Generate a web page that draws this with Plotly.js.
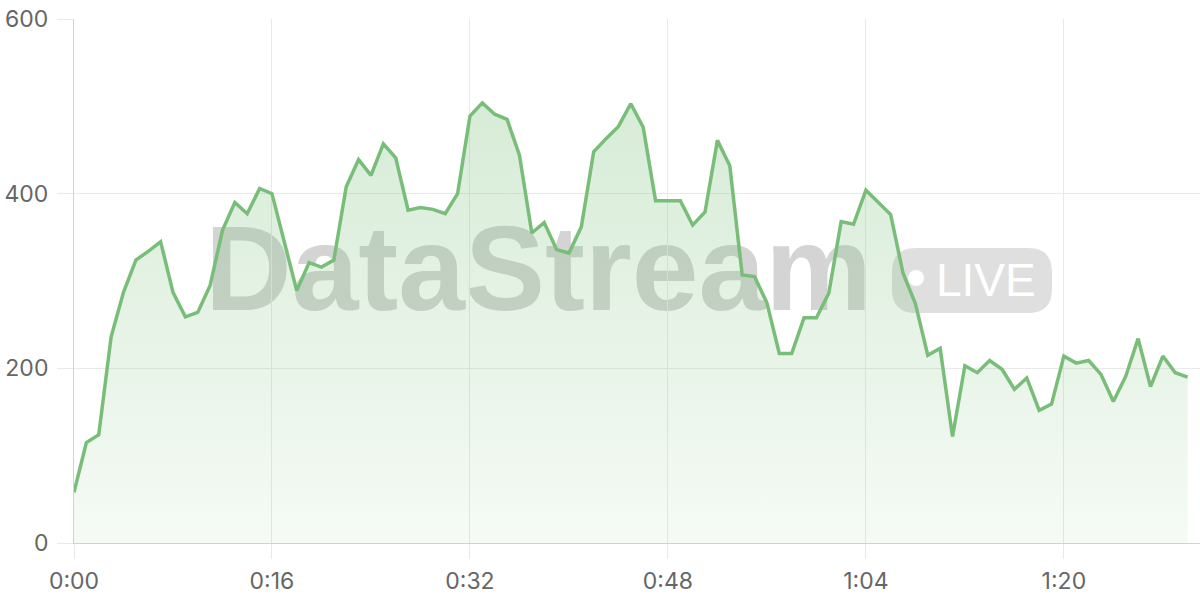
<!DOCTYPE html>
<html>
<head>
<meta charset="utf-8">
<script src="https://cdn.plot.ly/plotly-3.0.1.min.js"></script>
<style>html,body{margin:0;padding:0;background:#fff;}#chart{width:1200px;height:600px;}</style>
</head>
<body>
<div id="chart"></div>
<script>
// Values per second (0:00 .. 1:30)
const seconds = Array.from({length: 91}, (_, i) => i);
const values = [58,115,124,236,287,324,334,345,287,259,
                264,295,358,390,377,406,400,344,289,321,
                316,324,408,439,421,457,441,381,384,382,
                377,400,489,504,491,485,444,355,367,336,
                332,362,448,463,477,503,476,392,392,392,
                364,379,461,432,307,305,275,217,217,258,
                258,286,368,365,404,390,376,309,274,215,
                223,122,203,195,209,199,176,189,152,159,
                214,206,209,193,162,191,234,179,214,195,190];
const xTickVals = [0,16,32,48,64,80];
const xTickText = ['0:00','0:16','0:32','0:48','1:04','1:20'];
const yTickVals = [0,200,400,600];
const watermarkText = 'DataStream';
const badgeText = 'LIVE';

const trace = {
  x: seconds, y: values, type: 'scatter', mode: 'lines',
  line: {color: '#78be78', width: 3.5, shape: 'linear'},
  fill: 'tozeroy',
  fillgradient: {type: 'vertical', colorscale: [[0,'rgba(120,190,120,0.07)'],[1,'rgba(120,190,120,0.30)']]},
  hoverinfo: 'skip'
};

const gridC = '#e9e9e9';
const layout = {
  width: 1200, height: 600,
  margin: {l: 74, r: 0, t: 19, b: 57, pad: 0},
  paper_bgcolor: '#fff', plot_bgcolor: '#fff',
  showlegend: false,
  font: {family: 'Inter, "Liberation Sans", sans-serif', size: 23, color: '#666'},
  xaxis: {
    range: [0, 91], tickvals: xTickVals, ticktext: xTickText,
    showgrid: true, gridcolor: gridC, gridwidth: 1,
    ticks: 'outside', ticklen: 15, tickcolor: gridC, tickwidth: 1,
    showline: true, linecolor: '#d2d2d2', linewidth: 1,
    zeroline: false, automargin: false, ticklabelstandoff: 2
  },
  yaxis: {
    range: [0, 600], tickvals: yTickVals,
    showgrid: true, gridcolor: gridC, gridwidth: 1,
    ticks: 'outside', ticklen: 16, tickcolor: gridC, tickwidth: 1,
    showline: true, linecolor: '#d2d2d2', linewidth: 1,
    zeroline: false, automargin: false, ticklabelstandoff: 4
  },
  shapes: [
    {type: 'rect', xref: 'paper', yref: 'paper', x0: 0.15, x1: 0.675, y0: 0.425, y1: 0.665,
     fillcolor: 'rgba(0,0,0,0)', line: {width: 0}, layer: 'between',
     label: {text: watermarkText, textposition: 'middle center',
             font: {family: '"Liberation Sans", Arial, sans-serif', size: 120, weight: 'bold', color: 'rgba(100,100,100,0.28)'}}},
    {type: 'path', xref: 'paper', yref: 'paper', xsizemode: 'pixel', ysizemode: 'pixel',
     xanchor: 0.7975, yanchor: 0.501,
     path: 'M -56,-32.5 L 56,-32.5 Q 80,-32.5 80,-8.5 L 80,8.5 Q 80,32.5 56,32.5 L -56,32.5 Q -80,32.5 -80,8.5 L -80,-8.5 Q -80,-32.5 -56,-32.5 Z',
     fillcolor: 'rgba(128,128,128,0.25)', line: {width: 0}, layer: 'between'},
    {type: 'circle', xref: 'paper', yref: 'paper', xsizemode: 'pixel', ysizemode: 'pixel',
     xanchor: 0.7478, yanchor: 0.5057, x0: -8, x1: 8, y0: -8, y1: 8,
     fillcolor: '#ffffff', line: {width: 0}, layer: 'between'}
  ],
  annotations: [
    {text: badgeText, xref: 'paper', yref: 'paper', x: 0.8096, y: 0.5019,
     xanchor: 'center', yanchor: 'middle', showarrow: false,
     font: {family: '"Liberation Sans", Arial, sans-serif', size: 46, color: '#ffffff'}}
  ]
};

Plotly.newPlot('chart', [trace], layout, {staticPlot: true, displayModeBar: false});
</script>
</body>
</html>
